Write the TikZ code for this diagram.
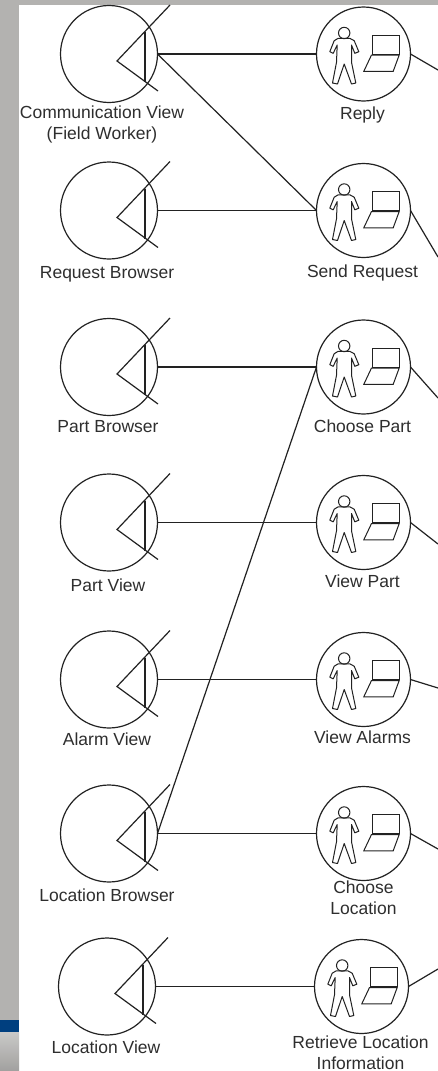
\documentclass[tikz,border=0pt]{standalone}
\usepackage{fontspec}
\setmainfont{Liberation Sans}
\usetikzlibrary{positioning}

\definecolor{pagegrey}{HTML}{B3B2B0}
\definecolor{bandblue}{HTML}{003F7F}
\definecolor{inktext}{HTML}{2E2E2E}
\definecolor{inkline}{HTML}{222222}

\tikzset{
	view/.style={circle, draw=inkline, line width=1.2pt, inner sep=0pt, outer sep=0pt, minimum size=97pt},
	task/.style={circle, draw=inkline, line width=1.2pt, inner sep=0pt, outer sep=0pt, minimum size=94pt},
	caption/.style={inner sep=0pt, align=center, text=inktext, font=\fontsize{17.5pt}{21pt}\selectfont},
	wire/.style={draw=inkline, line width=1.2pt},
	boundary/.pic={
		\draw[wire] (61,-49) -- (8,7) -- (49,37);
		\draw[wire] (36,-22) -- (36,28);
	},
	worker/.pic={
		\draw[wire, line width=1pt] (-19.3,-21) circle[radius=5.7];
		\draw[wire, line width=1pt, line join=round] (-25.3,-15.7) -- (-29.3,-13.3) -- (-33.7,-2.3) -- (-30.3,-0.7) -- (-26.3,-9)
			-- (-27,8.3) -- (-31,29) -- (-26,30) -- (-19.3,10) -- (-12,30) -- (-7.7,29) -- (-12,8.3)
			-- (-12,-9) -- (-8.7,-0.7) -- (-4.7,-2.3) -- (-9.3,-13.3) -- (-13.7,-15.7) -- cycle;
		\draw[wire, line width=1pt] (8.7,-19) rectangle (35.7,0);
		\draw[wire, line width=1pt] (8,1) -- (0.3,17.3) -- (29.7,17.3) -- (35.7,1) -- cycle;
	}
}

\begin{document}
\begin{tikzpicture}[x=1pt, y=-1pt]
	\useasboundingbox (0,0) rectangle (438,1071);
	\fill[pagegrey] (0,0) rectangle (438,1071);
	\fill[white] (19,5) rectangle (438,1071);
	\shade[top color=pagegrey!70!white, bottom color=pagegrey!90!black] (0,1032) rectangle (19,1071);
	\fill[bandblue] (0,1020) rectangle (19,1032);

	\node[view] (v1) at (109,54) {};
	\node[view, below=59.5pt of v1] (v2) {};
	\node[view, below=59.5pt of v2] (v3) {};
	\node[view, below=58.5pt of v3] (v4) {};
	\node[view, below=60pt of v4] (v5) {};
	\node[view, below=57pt of v5] (v6) {};
	\node[view, below=56pt of v6, xshift=-2pt] (v7) {};

	\node[task, right=159pt of v1] (t1) {};
	\node[task, right=159pt of v2] (t2) {};
	\node[task, right=159pt of v3] (t3) {};
	\node[task, right=159pt of v4] (t4) {};
	\node[task, right=159pt of v5] (t5) {};
	\node[task, right=159pt of v6] (t6) {};
	\node[task, right=159pt of v7] (t7) {};

	\pic at (v1) {boundary};
	\pic at (v2) {boundary};
	\pic at (v3) {boundary};
	\pic at (v4) {boundary};
	\pic at (v5) {boundary};
	\pic at (v6) {boundary};
	\pic at (v7) {boundary};

	\pic at (t1) {worker};
	\pic at (t2) {worker};
	\pic at (t3) {worker};
	\pic at (t4) {worker};
	\pic at (t5) {worker};
	\pic at (t6) {worker};
	\pic at (t7) {worker};

	\node[caption, below=3pt of v1, xshift=-7pt] (l1) {Communication View\\(Field Worker)};
	\node[caption, below=7pt of v2, xshift=-2pt] (l2) {Request Browser};
	\node[caption, below=5pt of v3, xshift=-1pt] (l3) {Part Browser};
	\node[caption, below=8pt of v4, xshift=-1pt] (l4) {Part View};
	\node[caption, below=5pt of v5, xshift=-2pt] (l5) {Alarm View};
	\node[caption, below=7pt of v6, xshift=-2pt] (l6) {Location Browser};
	\node[caption, below=6pt of v7, xshift=-1pt] (l7) {Location View};

	\node[caption, below=6pt of t1, xshift=-1pt] (m1) {Reply};
	\node[caption, below=7pt of t2, xshift=-1pt] (m2) {Send Request};
	\node[caption, below=6pt of t3, xshift=-1pt] (m3) {Choose Part};
	\node[caption, below=5pt of t4, xshift=-1pt] (m4) {View Part};
	\node[caption, below=4pt of t5, xshift=-1pt] (m5) {View Alarms};
	\node[caption, below=0pt of t6] (m6) {Choose\\Location};
	\node[caption, below=2pt of t7, xshift=-1pt] (m7) {Retrieve Location\\Information};

	\coordinate (e1) at (438,70);
	\coordinate (e2) at (438,257);
	\coordinate (e3) at (438,398);
	\coordinate (e4) at (438,544);
	\coordinate (e5) at (438,688);
	\coordinate (e6) at (438,849);
	\coordinate (e7) at (438,969);

	\draw [wire]
		(v1) edge (t1)
		(v2) edge (t2)
		(v3) edge (t3)
		(v4) edge (t4)
		(v5) edge (t5)
		(v6) edge (t6)
		(v7) edge (t7)

		(v1.east) edge (t2.west)
		(v6.east) edge (t3.west)

		(t1.east) edge (e1)
		(t2.east) edge (e2)
		(t3.east) edge (e3)
		(t4.east) edge (e4)
		(t5.east) edge (e5)
		(t6.east) edge (e6)
		(t7.east) edge (e7)
		;
\end{tikzpicture}
\end{document}
